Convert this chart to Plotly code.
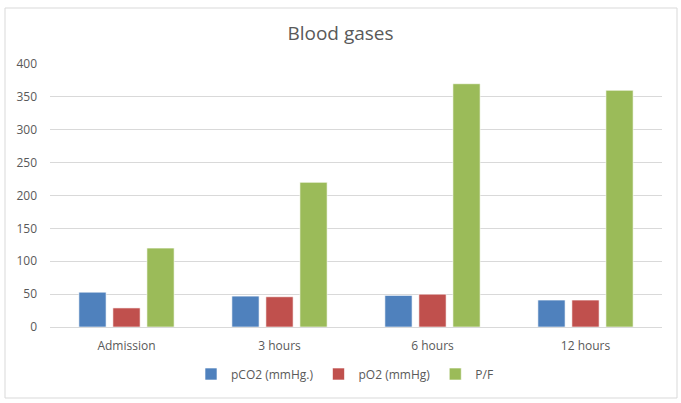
import plotly.graph_objects as go

categories = ["Admission", "3 hours", "6 hours", "12 hours"]
pco2 = [53, 47, 48, 41]
po2 = [29, 46, 50, 41]
pf = [120, 220, 370, 360]
series_names = ["pCO2 (mmHg.)", "pO2 (mmHg)", "P/F"]
colors = ["#4F81BD", "#C0504D", "#9BBB59"]

W, H = 681, 403
L, R, T, B = 50, 19, 64, 76
pw, ph = W - L - R, H - T - B

def px_x(p):
    return (p - L) / pw

def px_y(p):
    return (H - B - p) / ph

fig = go.Figure()
for name, vals, c in zip(series_names, [pco2, po2, pf], colors):
    fig.add_trace(go.Bar(x=categories, y=vals, name=name,
                         marker=dict(color=c, line=dict(color="rgba(255,255,255,0.6)", width=1))))

font_fam = "Open Sans, Liberation Sans, sans-serif"
fig.update_layout(
    width=W, height=H,
    margin=dict(l=L, r=R, t=T, b=B),
    paper_bgcolor="white", plot_bgcolor="white",
    barmode="group", bargap=0.333, bargroupgap=0.2,
    font=dict(family=font_fam, color="#595959", size=12),
    title=dict(text="Blood gases", x=0.5, xref="container", xanchor="center",
               y=1 - 33 / H, yanchor="middle",
               font=dict(size=19, color="#595959", family=font_fam)),
    legend=dict(orientation="h", x=(345 - L) / pw, xanchor="center",
                y=px_y(374), yanchor="middle",
                font=dict(size=12, color="#595959"),
                itemwidth=30, tracegroupgap=0),
    showlegend=True,
    xaxis=dict(showgrid=False, showline=True, linecolor="#D9D9D9", linewidth=1,
               ticks="", ticklabelstandoff=8, tickfont=dict(size=12, color="#595959")),
    yaxis=dict(range=[0, 400], dtick=50, showgrid=True, gridcolor="#D9D9D9",
               gridwidth=1, zeroline=False, showline=False, ticks="",
               ticklabelstandoff=12,
               tickfont=dict(size=12, color="#595959")),
    shapes=[dict(type="rect", xref="paper", yref="paper",
                 x0=px_x(5), x1=px_x(677), y0=px_y(398), y1=px_y(8),
                 line=dict(color="#D9D9D9", width=1), fillcolor="rgba(0,0,0,0)",
                 layer="below")],
)

fig.write_html("out.html")
